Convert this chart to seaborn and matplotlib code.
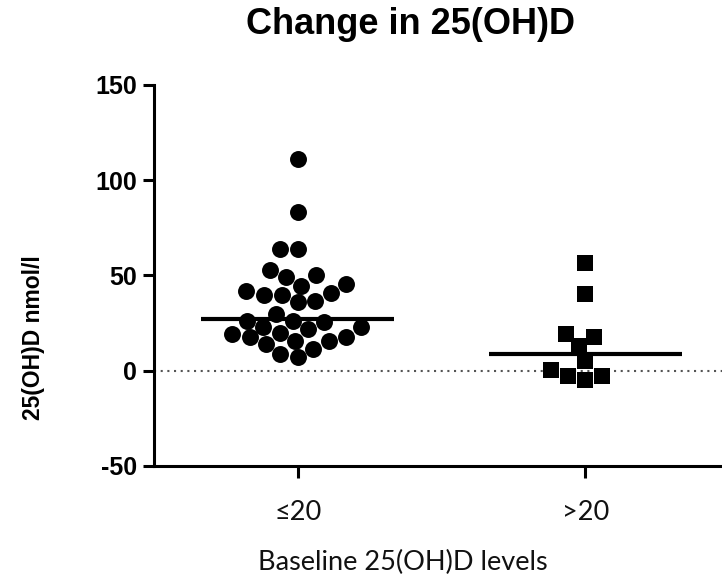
import matplotlib.pyplot as plt
import seaborn as sns
import pandas as pd

# values
groups = ['≤20', '>20']
low_baseline = [111.4, 83.3, 64.0, 64.0, 53.0, 50.0, 49.1, 45.6, 44.7, 41.6,
                40.7, 39.8, 39.8, 36.8, 36.0, 29.8, 26.3, 26.3, 25.4, 22.8,
                22.8, 21.9, 19.6, 19.3, 17.9, 17.5, 15.8, 15.8, 14.0, 11.4,
                8.8, 7.0]
high_baseline = [56.5, 40.3, 19.3, 17.5, 13.2, 4.9, 0.4, -2.6, -2.6, -4.9]
medians = [27, 9]

df = pd.DataFrame({
    'group': [groups[0]] * len(low_baseline) + [groups[1]] * len(high_baseline),
    'value': low_baseline + high_baseline,
})

sns.set_style('ticks')
plt.rcParams['font.family'] = ['Liberation Sans', 'DejaVu Sans']
plt.rcParams['axes.unicode_minus'] = False
plt.rcParams['text.color'] = 'black'

fig = plt.figure(figsize=(7.22, 5.77), dpi=100)
ax = fig.add_axes([0.2133, 0.1924, 0.7964, 0.6603])

# dotted zero reference line
ax.axhline(0, color='#555555', lw=1.5, ls=(0, (1, 2.2)), zorder=1)

sns.swarmplot(data=df[df.group == groups[0]], x='group', y='value', order=groups,
              color='black', marker='o', size=12.2, ax=ax, zorder=3)
sns.swarmplot(data=df[df.group == groups[1]], x='group', y='value', order=groups,
              color='black', marker='s', size=12.2, ax=ax, zorder=3)

# median bars
for i, m in enumerate(medians):
    ax.hlines(m, i - 0.335, i + 0.335, color='black', lw=3, zorder=4)

ax.set_xlim(-0.5, 1.5)
ax.set_ylim(-50, 150)
ax.set_yticks([-50, 0, 50, 100, 150])
sns.despine(ax=ax)
for s in ['left', 'bottom']:
    ax.spines[s].set_linewidth(2.2)
    ax.spines[s].set_color('black')

ax.tick_params(axis='y', length=8, width=2.2, pad=4, labelsize=18, colors='black')
ax.tick_params(axis='x', length=8.6, width=2.2, pad=16, labelsize=19.5, colors='black')
for lab in ax.get_yticklabels():
    lab.set_fontweight('bold')
    lab.set_family('Liberation Sans')
for lab in ax.get_xticklabels():
    lab.set_family('Lato')
    lab.set_color('#111111')

ax.set_xlabel('Baseline 25(OH)D levels', family='Lato', fontsize=19.5, color='#111111')
ax.xaxis.set_label_coords(0.433, -0.254)
ax.xaxis.label.set_va('center')
ax.set_ylabel('25(OH)D nmol/l', family='Liberation Sans', fontsize=16.5,
              fontweight='bold', color='black')
ax.yaxis.set_label_coords(-0.209, 0.336)
ax.yaxis.label.set_va('center')

fig.text(0.569, 0.957, 'Change in 25(OH)D', ha='center', va='center',
         family='Liberation Sans', fontsize=26, fontweight='bold', color='black')

fig.savefig('out.png', dpi=100)
